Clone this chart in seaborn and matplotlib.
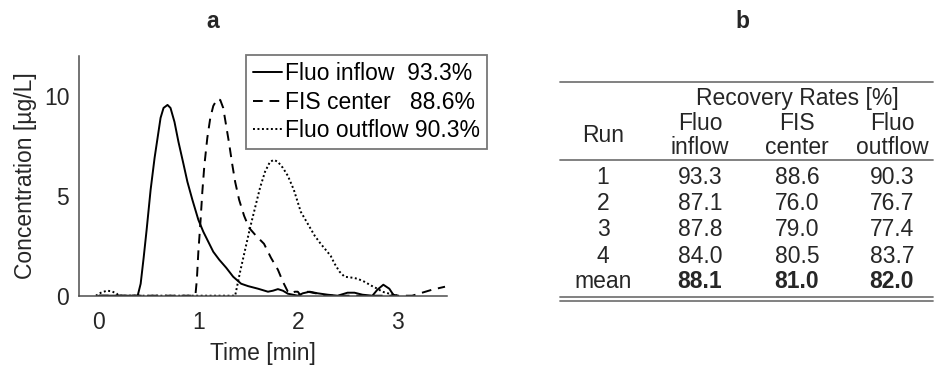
import pandas as pd
import matplotlib.pyplot as plt
import seaborn as sns

# Curva de concentração - tempo [min], concentração [µg/L]
t_inflow = [0.0, 0.39, 0.42, 0.45, 0.48, 0.52, 0.56, 0.59, 0.62, 0.65, 0.69, 0.72, 0.76, 0.80,
            0.85, 0.89, 0.94, 1.0, 1.05, 1.1, 1.15, 1.21, 1.28, 1.35, 1.43, 1.5, 1.6, 1.7, 1.75,
            1.8, 1.85, 1.9, 1.95, 2.0, 2.05, 2.12, 2.2, 2.3, 2.4, 2.5, 2.57, 2.65, 2.75, 2.8,
            2.86, 2.92, 2.96, 3.0]
c_inflow = [0.0, 0.0, 0.6, 1.9, 3.3, 5.3, 6.9, 7.9, 8.9, 9.4, 9.55, 9.4, 8.7, 7.7,
            6.6, 5.7, 4.8, 3.8, 3.2, 2.7, 2.2, 1.8, 1.4, 0.95, 0.6, 0.48, 0.35, 0.2, 0.25,
            0.33, 0.25, 0.1, 0.05, 0.0, 0.12, 0.2, 0.12, 0.05, 0.0, 0.15, 0.15, 0.05, 0.0, 0.3,
            0.55, 0.35, 0.05, 0.0]

t_center = [0.0, 0.97, 0.985, 1.0, 1.02, 1.04, 1.06, 1.09, 1.12, 1.15, 1.19, 1.22, 1.25, 1.28,
            1.31, 1.34, 1.37, 1.41, 1.46, 1.51, 1.58, 1.66, 1.73, 1.80, 1.85, 1.9, 1.93, 1.97,
            2.0, 2.03, 2.1, 2.2, 2.3, 3.15, 3.25, 3.35, 3.48]
c_center = [0.0, 0.0, 0.8, 2.2, 3.6, 5.2, 6.5, 7.9, 8.9, 9.5, 9.85, 9.8, 9.4, 8.5,
            7.6, 6.6, 5.7, 4.8, 4.0, 3.4, 3.0, 2.6, 1.9, 1.3, 0.7, 0.2, 0.1, 0.2,
            0.2, 0.0, 0.2, 0.1, 0.0, 0.0, 0.15, 0.3, 0.45]

t_outflow = [-0.03, 0.02, 0.08, 0.13, 0.18, 0.2, 1.37, 1.42, 1.47, 1.52, 1.57, 1.62, 1.67, 1.72,
             1.76, 1.8, 1.85, 1.9, 1.96, 2.03, 2.1, 2.17, 2.23, 2.28, 2.33, 2.37, 2.42, 2.47,
             2.55, 2.6, 2.67, 2.74, 2.8, 2.85, 2.92, 2.97, 3.0]
c_outflow = [0.0, 0.15, 0.25, 0.22, 0.1, 0.0, 0.0, 1.2, 2.3, 3.4, 4.4, 5.4, 6.2, 6.7,
             6.8, 6.7, 6.4, 6.0, 5.3, 4.2, 3.6, 3.0, 2.6, 2.3, 2.0, 1.6, 1.2, 0.95,
             0.9, 0.85, 0.7, 0.5, 0.35, 0.2, 0.1, 0.05, 0.0]

legenda = ['Fluo inflow  93.3%', 'FIS center   88.6%', 'Fluo outflow 90.3%']

# Tabela de taxas de recuperação
runs = ['1', '2', '3', '4', 'mean']
rec_inflow = ['93.3', '87.1', '87.8', '84.0', '88.1']
rec_center = ['88.6', '76.0', '79.0', '80.5', '81.0']
rec_outflow = ['90.3', '76.7', '77.4', '83.7', '82.0']
col_titulos = [('Fluo', 'inflow'), ('FIS', 'center'), ('Fluo', 'outflow')]

sns.set_style('white')
plt.rcParams['font.family'] = ['Liberation Sans', 'DejaVu Sans']
cinza = '#262626'
fs = 16.5

W, H = 935, 365
fig = plt.figure(figsize=(W / 100, H / 100), dpi=100)

# ---- painel a ----
ax = fig.add_axes([79 / W, 1 - 295.7 / H, 368 / W, 239.7 / H])
estilos = ['-', (0, (5, 3.5)), (0, (1, 1.3))]
series = [(t_inflow, c_inflow), (t_center, c_center), (t_outflow, c_outflow)]
for (t, c), ls in zip(series, estilos):
    sns.lineplot(x=t, y=c, ax=ax, color='black', linewidth=1.4, linestyle=ls,
                 estimator=None, sort=False)

ax.set_xlim(-0.2, 3.5)
ax.set_ylim(0, 12)
ax.set_xticks([0, 1, 2, 3])
ax.set_yticks([0, 5, 10])
ax.tick_params(direction='in', length=4, width=1, colors='#4d4d4d', labelcolor=cinza,
               labelsize=fs)
ax.tick_params(axis='x', pad=11)
ax.tick_params(axis='y', pad=7)
for lado in ['top', 'right']:
    ax.spines[lado].set_visible(False)
for lado in ['left', 'bottom']:
    ax.spines[lado].set_color('#4d4d4d')
    ax.spines[lado].set_linewidth(1.1)
ax.set_xlabel('Time [min]', fontsize=fs, color=cinza, labelpad=6)
ax.set_ylabel('Concentration [µg/L]', fontsize=fs, color=cinza, labelpad=5)

leg = ax.legend(ax.lines[:3], legenda, loc='upper right', bbox_to_anchor=(487 / W, 1 - 55 / H),
                bbox_transform=fig.transFigure, fontsize=fs, frameon=True, fancybox=False,
                handlelength=1.25, handletextpad=0.15, borderpad=0.3, labelspacing=0.25,
                borderaxespad=0)
leg.get_frame().set_edgecolor('#555555')
leg.get_frame().set_linewidth(1.3)
for txt in leg.get_texts():
    txt.set_color('black')

fig.text(213 / W, 1 - 21 / H, 'a', fontsize=fs, fontweight='bold', ha='center', va='center')
fig.text(742 / W, 1 - 21 / H, 'b', fontsize=fs, fontweight='bold', ha='center', va='center')

# ---- painel b (tabela) ----
tb = fig.add_axes([0, 0, 1, 1])
tb.set_xlim(0, W)
tb.set_ylim(H, 0)
tb.axis('off')

linha = dict(color='#777777', linewidth=1.3)
tb.plot([560, 933], [82, 82], **linha)
tb.plot([560, 933], [160, 160], **linha)
tb.plot([560, 933], [297, 297], **linha)
tb.plot([560, 933], [301, 301], **linha)

x_cols = [700, 797, 892]
tb.text(797, 98, 'Recovery Rates [%]', fontsize=fs, ha='center', va='center')
tb.text(603, 136, 'Run', fontsize=fs, ha='center', va='center')
for xc, (l1, l2) in zip(x_cols, col_titulos):
    tb.text(xc, 123, l1, fontsize=fs, ha='center', va='center')
    tb.text(xc, 148, l2, fontsize=fs, ha='center', va='center')

y_rows = [177, 203.5, 230, 256.5, 282]
for i, yr in enumerate(y_rows):
    peso = 'bold' if runs[i] == 'mean' else 'normal'
    tb.text(603, yr, runs[i], fontsize=fs, ha='center', va='center')
    for xc, vals in zip(x_cols, [rec_inflow, rec_center, rec_outflow]):
        tb.text(xc, yr, vals[i], fontsize=fs, ha='center', va='center', fontweight=peso)

fig.savefig('out.png', dpi=100)
